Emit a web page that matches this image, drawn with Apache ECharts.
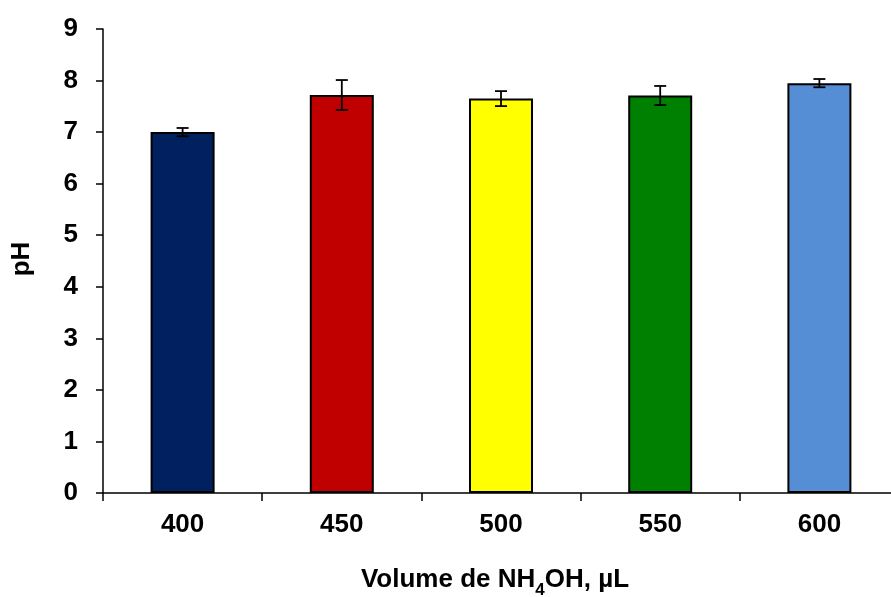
<!DOCTYPE html>
<html>
<head>
<meta charset="utf-8">
<script src="https://cdn.jsdelivr.net/npm/echarts@6/dist/echarts.min.js"></script>
<style>
  html, body { margin: 0; padding: 0; background: #fff; }
  #chart { width: 891px; height: 597px; }
</style>
</head>
<body>
<div id="chart"></div>
<script>
// NH4OH volume (µL) vs. pH, with standard deviation
const categories = ['400', '450', '500', '550', '600'];
const phValues = [7.00, 7.72, 7.65, 7.71, 7.95];
const phErrors = [0.08, 0.29, 0.145, 0.185, 0.08];
const barColors = ['#002060', '#C00000', '#FFFF00', '#008000', '#558ED5'];
const yTicks = [0, 1, 2, 3, 4, 5, 6, 7, 8, 9];

const FONT = 'Liberation Sans, Arial, sans-serif';

const chart = echarts.init(document.getElementById('chart'), null, { renderer: 'canvas' });

const errorData = phValues.map((v, i) => [i, v - phErrors[i], v + phErrors[i]]);

chart.setOption({
  animation: false,
  backgroundColor: '#ffffff',
  // the category axis runs slightly past the right edge of the canvas
  grid: { left: 103, width: 796, top: 29, height: 464, containLabel: false, outerBoundsMode: 'none' },
  xAxis: {
    type: 'category',
    data: categories,
    axisLine: { lineStyle: { color: '#000', width: 1.5 } },
    axisTick: { show: true, length: 8, alignWithLabel: false, lineStyle: { color: '#000', width: 1.5 } },
    axisLabel: { color: '#000', fontFamily: FONT, fontWeight: 'bold', fontSize: 26, margin: 19 }
  },
  yAxis: {
    type: 'value',
    min: yTicks[0],
    max: yTicks[yTicks.length - 1],
    interval: 1,
    splitLine: { show: false },
    axisLine: { show: true, lineStyle: { color: '#000', width: 1.5 } },
    axisTick: { show: true, length: 7, lineStyle: { color: '#000', width: 1.5 } },
    axisLabel: { color: '#000', fontFamily: FONT, fontWeight: 'bold', fontSize: 26, margin: 25 }
  },
  series: [
    {
      type: 'bar',
      barWidth: 64,
      data: phValues.map((v, i) => ({
        value: v,
        itemStyle: { color: barColors[i], borderColor: '#000', borderWidth: 2 }
      })),
      z: 2
    },
    {
      type: 'custom',
      z: 5,
      data: errorData,
      encode: { x: 0, y: [1, 2] },
      renderItem: function (params, api) {
        const x = api.value(0);
        const lo = api.coord([x, api.value(1)]);
        const hi = api.coord([x, api.value(2)]);
        const half = 6;
        const style = { stroke: '#000', lineWidth: 1.8 };
        return {
          type: 'group',
          children: [
            { type: 'line', shape: { x1: hi[0], y1: hi[1], x2: lo[0], y2: lo[1] }, style: style },
            { type: 'line', shape: { x1: hi[0] - half, y1: hi[1], x2: hi[0] + half, y2: hi[1] }, style: style },
            { type: 'line', shape: { x1: lo[0] - half, y1: lo[1], x2: lo[0] + half, y2: lo[1] }, style: style }
          ]
        };
      }
    }
  ],
  graphic: [
    {
      type: 'text',
      rotation: Math.PI / 2,
      style: {
        text: 'pH',
        fill: '#000',
        font: 'bold 26px ' + FONT,
        textAlign: 'center',
        textVerticalAlign: 'middle'
      },
      x: 22,
      y: 259
    },
    {
      type: 'text',
      style: {
        text: '{n|Volume de NH}{s|4}{n|OH, µL}',
        rich: {
          n: { fontFamily: FONT, fontWeight: 'bold', fontSize: 26, fill: '#000', color: '#000', verticalAlign: 'bottom' },
          s: { fontFamily: FONT, fontWeight: 'bold', fontSize: 17, fill: '#000', color: '#000', padding: [0, 0, -6, 0], verticalAlign: 'bottom' }
        },
        textAlign: 'center',
        textVerticalAlign: 'middle'
      },
      x: 495,
      y: 580
    }
  ]
});
</script>
</body>
</html>
